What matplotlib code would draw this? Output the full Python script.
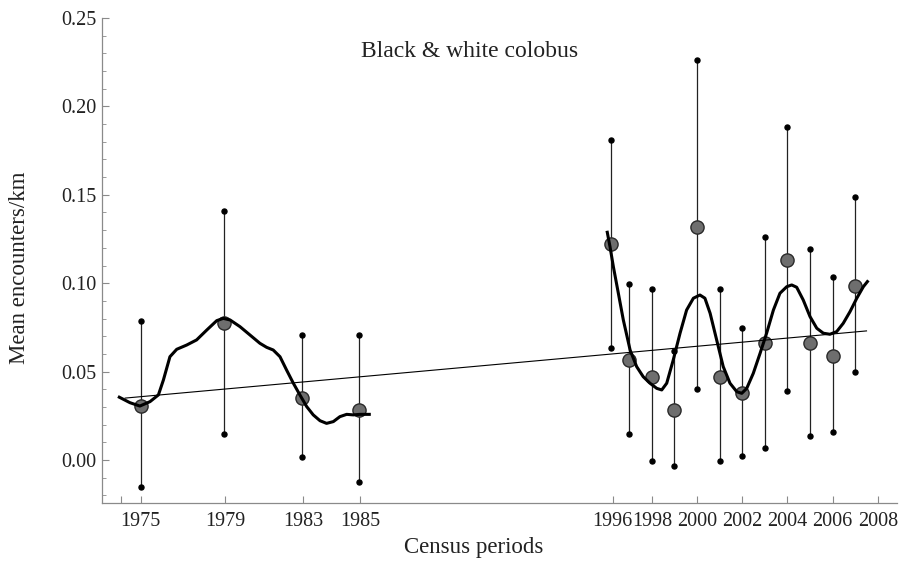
import numpy as np
import matplotlib.pyplot as plt
from matplotlib.ticker import MultipleLocator

plt.rcParams['font.family'] = ['Liberation Serif', 'DejaVu Serif']

# census positions (fractional years) and mean encounters/km
census_x = [1975.38, 1979.07, 1982.51, 1985.06,
            1996.19, 1997, 1998, 1999, 2000, 2001, 2002, 2003, 2004, 2005, 2006, 2007]
mean_enc = [0.0305, 0.0773, 0.0352, 0.0283,
            0.122, 0.0566, 0.0471, 0.0283, 0.132, 0.0471, 0.0377, 0.066, 0.1131, 0.066, 0.0588, 0.0984]
upper = [0.0786, 0.1408, 0.0707, 0.0707,
         0.181, 0.0994, 0.0967, 0.0617, 0.2262, 0.0967, 0.0748, 0.1263, 0.1885, 0.1192, 0.1037, 0.149]
lower = [-0.0151, 0.0145, 0.0019, -0.0123,
         0.0632, 0.0147, -0.0006, -0.0032, 0.040, -0.0006, 0.0023, 0.0066, 0.039, 0.0138, 0.0157, 0.0496]

# smoothed curve, early censuses
smooth1_x = [1974.44, 1974.91, 1975.35, 1975.80, 1976.17, 1976.39, 1976.68, 1976.98, 1977.42,
             1977.86, 1978.31, 1978.75, 1979.04, 1979.34, 1979.78, 1980.22, 1980.66, 1980.96,
             1981.25, 1981.55, 1981.84, 1982.14, 1982.43, 1982.73, 1983.02, 1983.32, 1983.61,
             1983.91, 1984.20, 1984.50, 1984.79, 1985.09, 1985.50]
smooth1_y = [0.0355, 0.0324, 0.0305, 0.0330, 0.0368, 0.0452, 0.0584, 0.0626, 0.0650,
             0.0679, 0.0735, 0.0788, 0.0801, 0.0792, 0.0754, 0.0707, 0.0660, 0.0637,
             0.0622, 0.0584, 0.0509, 0.0434, 0.0368, 0.0302, 0.0255, 0.0222, 0.0207,
             0.0217, 0.0245, 0.0258, 0.0255, 0.0258, 0.0258]

# smoothed curve, later censuses
smooth2_x = [1996.03, 1996.15, 1996.30, 1996.52, 1996.74, 1997.04, 1997.33, 1997.62, 1997.92,
             1998.22, 1998.44, 1998.66, 1998.95, 1999.25, 1999.54, 1999.84, 2000.13, 2000.35,
             2000.58, 2000.87, 2001.16, 2001.46, 2001.76, 2001.98, 2002.20, 2002.49, 2002.79,
             2003.08, 2003.38, 2003.67, 2003.97, 2004.19, 2004.41, 2004.70, 2005.00, 2005.30,
             2005.59, 2005.88, 2006.18, 2006.47, 2006.77, 2007.07, 2007.36, 2007.54]
smooth2_y = [0.1288, 0.1207, 0.1093, 0.0943, 0.0792, 0.0622, 0.0528, 0.0471, 0.0434,
             0.0405, 0.0396, 0.0434, 0.0566, 0.0717, 0.0848, 0.0915, 0.0933, 0.0915,
             0.0830, 0.0679, 0.0528, 0.0434, 0.0386, 0.0377, 0.0405, 0.0490, 0.0603,
             0.0717, 0.0848, 0.0943, 0.0980, 0.0990, 0.0977, 0.0905, 0.0811, 0.0745,
             0.0717, 0.0711, 0.0726, 0.0773, 0.0839, 0.0915, 0.0980, 0.1009]

# linear trend
trend_x = [1974.7, 2007.5]
trend_y = [0.035, 0.073]

tick_pos = [1974.5, 1975.38, 1979.12, 1982.57, 1985.09, 1996.27,
            1998, 2000, 2002, 2004, 2006, 2008]
tick_labels = ['', '1975', '1979', '1983', '1985', '1996',
               '1998', '2000', '2002', '2004', '2006', '2008']

fig = plt.figure(figsize=(8.99, 5.70), dpi=100)
ax = fig.add_axes([0.1131, 0.118, 0.8847, 0.8504])

for x, lo, hi in zip(census_x, lower, upper):
    ax.plot([x, x], [lo, hi], color='#222222', lw=0.9, zorder=2)
ax.plot(census_x, upper, 'o', color='black', ms=3.6, zorder=3)
ax.plot(census_x, lower, 'o', color='black', ms=3.6, zorder=3)

ax.plot(census_x, mean_enc, 'o', ms=9.5, markerfacecolor='#6e6e6e',
        markeredgecolor='#2a2a2a', markeredgewidth=1.0, zorder=4)

ax.plot(trend_x, trend_y, color='black', lw=0.8, zorder=5)
ax.plot(smooth1_x, smooth1_y, color='black', lw=2.2, zorder=6)
ax.plot(smooth2_x, smooth2_y, color='black', lw=2.2, zorder=6)

ax.set_xlim(1973.66, 2008.85)
ax.set_ylim(-0.0242, 0.25)

ax.set_xticks(tick_pos)
ax.set_xticklabels(tick_labels)
ax.set_yticks([0.0, 0.05, 0.10, 0.15, 0.20, 0.25])
ax.set_yticklabels(['0.00', '0.05', '0.10', '0.15', '0.20', '0.25'])
ax.yaxis.set_minor_locator(MultipleLocator(0.01))

for side in ['top', 'right']:
    ax.spines[side].set_visible(False)
for side in ['left', 'bottom']:
    ax.spines[side].set_color('#8a8a8a')
    ax.spines[side].set_linewidth(0.9)

ax.tick_params(axis='both', which='both', direction='in', color='#8a8a8a',
               labelsize=14.5, labelcolor='#222222')
ax.tick_params(axis='both', which='major', length=5)
ax.tick_params(axis='y', which='minor', length=3)
ax.tick_params(axis='x', pad=7)
ax.tick_params(axis='y', pad=4)

ax.set_xlabel('Census periods', fontsize=16.5, color='#222222')
ax.set_ylabel('Mean encounters/km', fontsize=16.5, color='#222222')
ax.xaxis.set_label_coords(0.468, -0.093)
ax.yaxis.set_label_coords(-0.103, 0.484)
ax.xaxis.label.set_va('center')
ax.yaxis.label.set_va('center')
ax.text(0.462, 0.93, 'Black & white colobus', transform=ax.transAxes,
        ha='center', va='center', fontsize=17, color='#222222')

fig.savefig('out.png', dpi=100)
